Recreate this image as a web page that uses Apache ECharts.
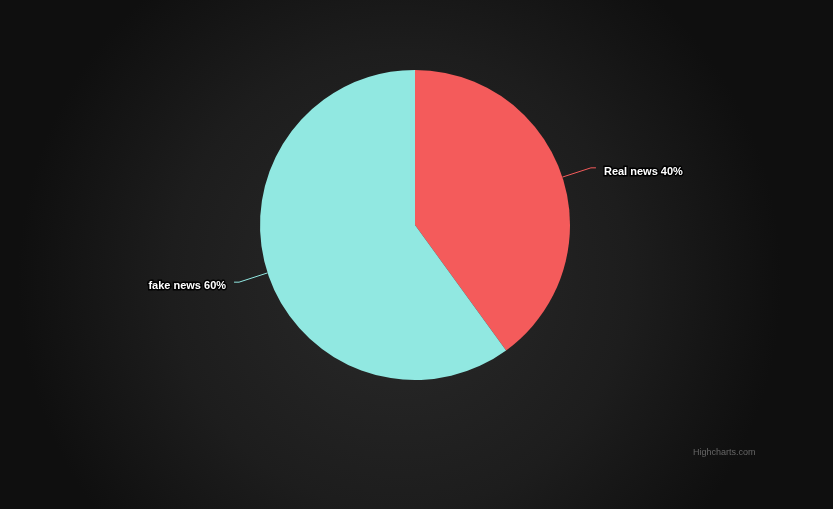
<!DOCTYPE html>
<html>
<head>
<meta charset="utf-8">
<script src="https://cdn.jsdelivr.net/npm/echarts@6/dist/echarts.min.js"></script>
<style>
html,body{margin:0;padding:0;background:#1a1a1a;}
#c{width:833px;height:509px;}
</style>
</head>
<body>
<div id="c"></div>
<script>
const categories = ["Real news", "fake news"];
const values = [40, 60];
const colors = ["#f45b5b", "#91e8e1"];

const chart = echarts.init(document.getElementById('c'), null, {renderer: 'canvas'});
const data = categories.map((n, i) => ({name: n, value: values[i], itemStyle: {color: colors[i]}, labelLine: {lineStyle: {color: colors[i]}}}));
chart.setOption({
  backgroundColor: {
    type: 'radial', x: 0.48, y: 0.55, r: 0.75,
    colorStops: [
      {offset: 0, color: '#2a2a2a'},
      {offset: 0.6, color: '#1d1d1d'},
      {offset: 1, color: '#0f0f0f'}
    ]
  },
  animation: false,
  series: [{
    type: 'pie',
    center: [415, 225],
    radius: [0, 155],
    startAngle: 90,
    clockwise: true,
    avoidLabelOverlap: false,
    itemStyle: {borderWidth: 0},
    label: {
      show: true,
      formatter: p => p.name + ' ' + p.value + '%',
      color: '#ffffff',
      fontFamily: 'Liberation Sans, Arial, sans-serif',
      fontSize: 11,
      fontWeight: 'bold',
      textBorderColor: '#000000',
      textBorderWidth: 3,
      offset: [0, 4],
      distanceToLabelLine: 8
    },
    labelLine: {show: true, length: 30, length2: 5, lineStyle: {width: 1}},
    emphasis: {disabled: true},
    data: data
  }],
  graphic: [{
    type: 'text', left: 693, top: 448,
    style: {text: 'Highcharts.com', fill: '#666666', font: '9px "Liberation Sans", Arial, sans-serif'}
  }]
});
</script>
</body>
</html>
